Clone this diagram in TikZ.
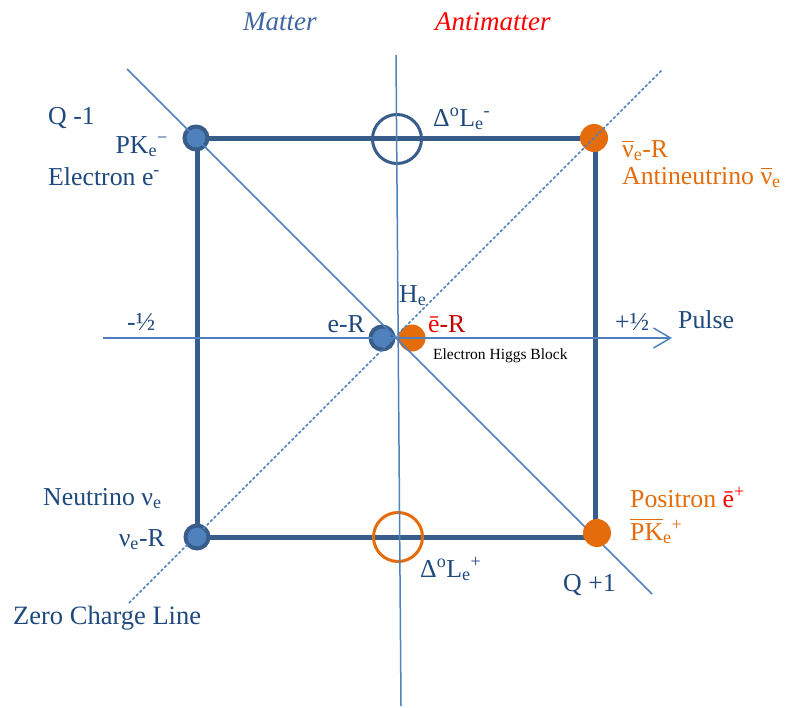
\documentclass[tikz,border=0pt]{standalone}
\usepackage{fontspec}
\setmainfont{Liberation Serif}
\usetikzlibrary{arrows.meta}
\definecolor{dblue}{HTML}{385D8A}
\definecolor{lblue}{HTML}{4F81BD}
\definecolor{tblue}{HTML}{1F497D}
\definecolor{orng}{HTML}{E46C0A}
\definecolor{mblue}{HTML}{3F66A0}
\definecolor{dred}{HTML}{C00000}
\newcommand\ovl[1]{\setbox0\hbox{#1}\rlap{\raisebox{\dimexpr\ht0+3pt\relax}{\rule{\wd0}{1.3pt}}}\box0}
\newcommand\sbb[1]{\textsubscript{#1}}
\newcommand\spp[1]{\textsuperscript{#1}}
\begin{document}
\begin{tikzpicture}[x=1pt,y=-1pt,
  font=\fontsize{25.8}{30}\selectfont,
  lbl/.style={inner sep=0pt, anchor=base west, text=tblue},
  lblr/.style={inner sep=0pt, anchor=base east, text=tblue},
  axisline/.style={lblue, line width=1.5pt},
  dashline/.style={lblue, line width=1.5pt, dash pattern=on 3pt off 2pt},
  sqline/.style={dblue, line width=5pt},
  bdot/.style={circle, fill=lblue, draw=dblue, line width=4pt, minimum size=23pt, inner sep=0pt},
  odot/.style={circle, fill=orng, minimum size=28pt, inner sep=0pt},
  ring/.style={circle, draw=#1, line width=3pt, minimum size=49pt, inner sep=0pt}]
\useasboundingbox (0,0) rectangle (787,707);
% coordinates
\coordinate (c1) at (197,138);
\coordinate (c2) at (595,138);
\coordinate (c3) at (595,537);
\coordinate (c4) at (197,537);
\coordinate (vt) at (396,55);
\coordinate (vb) at (401,706);
\coordinate (hl) at (103,338);
\coordinate (hr) at (672,338);
\coordinate (d1a) at (127,69);
\coordinate (d1b) at (652,594);
\coordinate (d2a) at (129,603);
\coordinate (d2b) at (662,70);
% square
\draw[sqline] (c1) -- (c2) -- (c3) -- (c4) -- cycle;
% open rings
\node[ring=dblue] (rt) at (397,139) {};
\node[ring=orng] (rb) at (398,537) {};
% dots
\node[bdot] (tl) at (196,138) {};
\node[odot] (tr) at (594,138) {};
\node[bdot] (bl) at (197,537) {};
\node[bdot] (eR) at (382,338) {};
\node[odot, minimum size=27pt] (ebR) at (412,338) {};
% thin lines
\draw[axisline] (vt) -- (vb);
\draw[axisline, -{Straight Barb[length=17pt,width=20pt,line width=1.5pt]}] (hl) -- (hr);
\draw[axisline] (d1a) -- (d1b);
\draw[dashline] (d2a) -- (d2b);
\node[odot] (br) at (597,533) {};
% labels
\node[lbl, text=mblue, font=\fontsize{27}{30}\selectfont\itshape] (mat) at (243,30) {Matter};
\node[lbl, text=red, font=\fontsize{27}{30}\selectfont\itshape] (amat) at (435,30) {Antimatter};
\node[lbl] (qm) at (48,124) {Q -1};
\node[lblr] (pk) at (168,153) {PK\sbb{e}\spp{−}};
\node[lbl] (el) at (48,185) {Electron e\spp{-}};
\node[lbl] (dlm) at (433,126) {Δ\spp{o}L\sbb{e}\spp{-}};
\node[lbl, text=orng] (nur) at (622,157) {\ovl{ν}\sbb{e}-R};
\node[lbl, text=orng] (anu) at (622,184) {Antineutrino \ovl{ν}\sbb{e}};
\node[lbl] (mh) at (127,330) {-½};
\node[lblr] (er) at (365,332) {e-R};
\node[lbl] (he) at (399,302) {H\sbb{e}};
\node[lbl, text=dred] (ebr) at (428,332) {\textcolor{red}{ē}-R};
\node[lbl, text=black, font=\fontsize{15.5}{18}\selectfont] (ehb) at (433,359) {Electron Higgs Block};
\node[lbl] (ph) at (615,330) {+½};
\node[lbl] (pu) at (678,328) {Pulse};
\node[lbl] (nue) at (43,505) {Neutrino ν\sbb{e}};
\node[lblr] (nuer) at (165,546) {ν\sbb{e}-R};
\node[lbl, font=\fontsize{26.5}{30}\selectfont] (zcl) at (13,624) {Zero Charge Line};
\node[lbl] (dlp) at (420,577) {Δ\spp{o}L\sbb{e}\spp{+}};
\node[lbl, text=orng] (pos) at (630,507) {Positron \textcolor{red}{ē\spp{+}}};
\node[lbl, text=orng] (pkb) at (630,540) {\ovl{PK}\sbb{e}\spp{+}};
\node[lbl] (qp) at (563,591) {Q +1};
\end{tikzpicture}
\end{document}
